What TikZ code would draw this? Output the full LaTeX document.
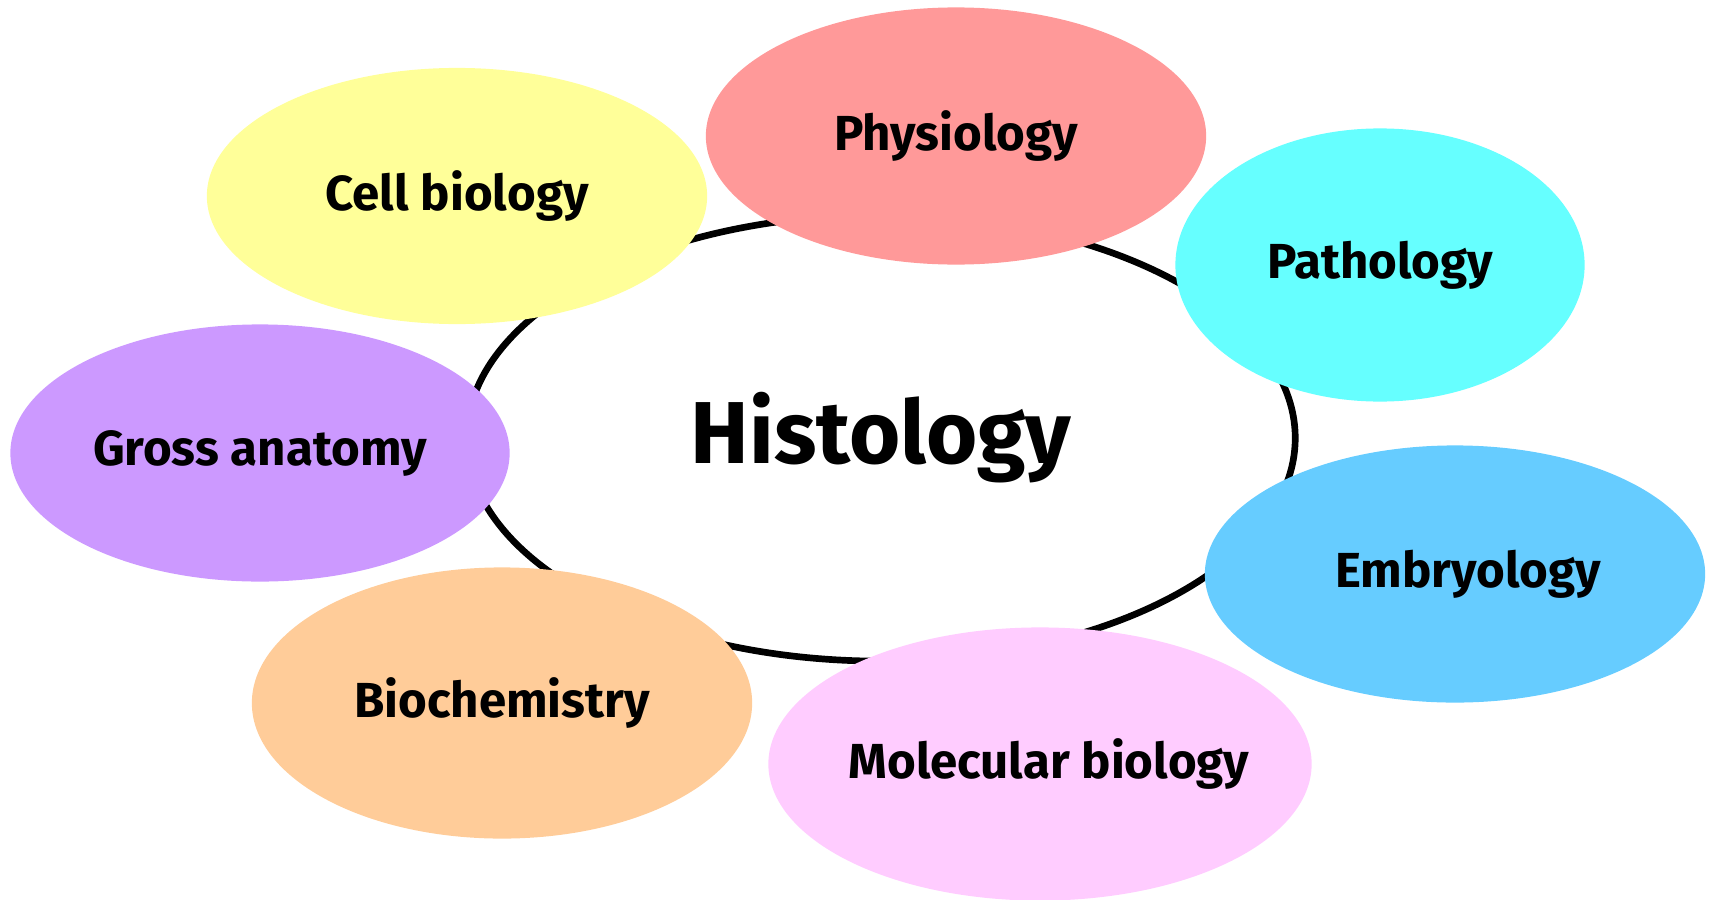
\documentclass[tikz,border=0pt]{standalone}
\usepackage{fontspec}
\setmainfont{Fira Sans}
\usetikzlibrary{shapes.geometric}
\definecolor{cellc}{HTML}{FFFF99}
\definecolor{physc}{HTML}{FF9999}
\definecolor{pathc}{HTML}{66FFFF}
\definecolor{grossc}{HTML}{CC99FF}
\definecolor{embc}{HTML}{66CCFF}
\definecolor{biochc}{HTML}{FFCC99}
\definecolor{molc}{HTML}{FFCCFF}
\begin{document}
\begin{tikzpicture}[x=0.01cm,y=-0.01cm,
  every node/.style={ellipse,inner sep=0pt,outer sep=0pt,font=\bfseries\fontsize{14}{16}\selectfont},
  field/.style={fill=#1}]
\useasboundingbox (0,0) rectangle (1712,900);
\node[draw,line width=1.9pt,fill=white,minimum width=8.28cm,minimum height=4.46cm,font=\bfseries\fontsize{25}{28}\selectfont] (hist) at (881,438) {Histology};
\node[field=cellc,minimum width=5cm,minimum height=2.56cm,label={center:Cell biology}] (cell) at (457,196) {};
\node[field=physc,minimum width=5cm,minimum height=2.57cm,label={center:Physiology}] (phys) at (956,136) {};
\node[field=pathc,minimum width=4.09cm,minimum height=2.73cm,label={center:Pathology}] (path) at (1380,265) {};
\node[field=grossc,minimum width=4.99cm,minimum height=2.57cm,label={center:Gross anatomy}] (gross) at (260,453) {};
\node[field=embc,minimum width=5cm,minimum height=2.57cm,label={[xshift=0.13cm]center:Embryology}] (emb) at (1455,574) {};
\node[field=biochc,minimum width=5cm,minimum height=2.71cm,label={center:Biochemistry}] (bioch) at (502,703) {};
\node[field=molc,minimum width=5.43cm,minimum height=2.73cm,label={[xshift=0.09cm]center:Molecular biology}] (mol) at (1040,764) {};
\end{tikzpicture}
\end{document}
